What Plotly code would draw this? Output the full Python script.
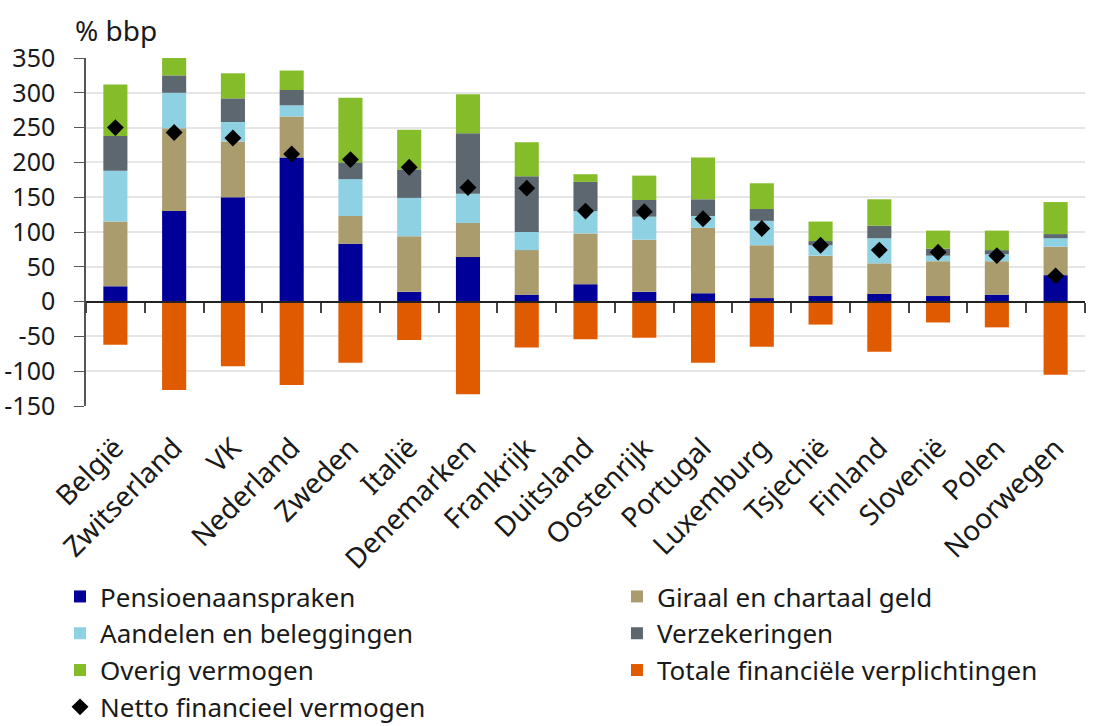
import plotly.graph_objects as go

countries = ["België", "Zwitserland", "VK", "Nederland", "Zweden", "Italië", "Denemarken",
             "Frankrijk", "Duitsland", "Oostenrijk", "Portugal", "Luxemburg", "Tsjechië",
             "Finland", "Slovenië", "Polen", "Noorwegen"]
pensioen = [22, 130, 150, 207, 83, 14, 64, 10, 25, 14, 12, 5, 8, 11, 8, 10, 38]
giraal = [93, 119, 80, 59, 40, 80, 49, 64, 73, 75, 94, 76, 58, 44, 50, 48, 41]
aandelen = [73, 51, 28, 16, 53, 55, 42, 26, 32, 33, 17, 35, 15, 36, 8, 10, 12]
verzekeringen = [50, 25, 34, 22, 24, 41, 87, 80, 42, 24, 24, 17, 6, 18, 10, 6, 6]
overig = [74, 35, 36, 28, 93, 57, 56, 49, 11, 35, 60, 37, 28, 38, 26, 28, 46]
verplichtingen = [-62, -127, -93, -120, -88, -55, -133, -66, -54, -52, -88, -65, -33, -72, -30, -37, -105]
netto = [250, 243, 235, 212, 204, 193, 164, 163, 130, 129, 119, 105, 81, 74, 71, 66, 37]
y_ticks = [-150, -100, -50, 0, 50, 100, 150, 200, 250, 300, 350]
y_ticktext = ["-150", "-100", "-50", "0", "50", "100", "150", "200", "250", "300", "350"]

FONT = "Noto Sans"
TXT = "#1a1a1a"
fig = go.Figure()
series = [
    ("Pensioenaanspraken", pensioen, "#000099", "legend"),
    ("Giraal en chartaal geld", giraal, "#AB9C6E", "legend2"),
    ("Aandelen en beleggingen", aandelen, "#8ED1E3", "legend"),
    ("Verzekeringen", verzekeringen, "#5C6770", "legend2"),
    ("Overig vermogen", overig, "#84BC2A", "legend"),
    ("Totale financiële verplichtingen", verplichtingen, "#E05A00", "legend2"),
]
for name, vals, col, leg in series:
    fig.add_trace(go.Bar(x=countries, y=vals, name=name, legend=leg,
                         marker=dict(color=col, line=dict(width=0))))
fig.add_trace(go.Scatter(x=countries, y=netto, name="Netto financieel vermogen", mode="markers",
                         legend="legend", marker=dict(symbol="diamond", color="black", size=13)))
# hidden trace for the zero-line axis with boundary ticks
fig.add_trace(go.Scatter(x=countries, y=[0] * len(countries), xaxis="x2", mode="markers",
                         marker=dict(opacity=0), showlegend=False, hoverinfo="skip"))

n = len(countries)
leg_common = dict(orientation="v", yanchor="top", xanchor="left", traceorder="normal",
                  font=dict(size=26, color=TXT), itemwidth=30, bgcolor="rgba(0,0,0,0)")
fig.update_layout(
    width=1111, height=726,
    barmode="relative", bargap=0.59,
    plot_bgcolor="white", paper_bgcolor="white",
    margin=dict(l=86, r=26, t=58, b=320, autoexpand=False),
    font=dict(family=FONT, color=TXT, size=22),
    xaxis=dict(tickangle=-45, tickfont=dict(size=28, color=TXT), showgrid=False,
               ticks="", showline=False, ticklabelstandoff=19, range=[-0.5, n - 0.5]),
    xaxis2=dict(overlaying="x", anchor="free", position=0.3, side="bottom", showline=True,
                linecolor="#222222", linewidth=2, ticks="outside", tickson="boundaries",
                ticklen=10, tickwidth=2, tickcolor="#444444", showticklabels=False,
                showgrid=False, matches="x"),
    yaxis=dict(range=[-150, 350], tickvals=y_ticks, ticktext=y_ticktext, showgrid=True,
               gridcolor="#e6e6e6", gridwidth=2, showline=True, linecolor="#555555",
               linewidth=1.5, ticks="outside", ticklen=10, tickcolor="#555555",
               tickfont=dict(size=25, color=TXT), zeroline=False, ticklabelstandoff=14),
    legend=dict(x=-0.026, y=-0.48, **leg_common),
    legend2=dict(x=0.5315, y=-0.48, **leg_common),
    showlegend=True,
)
fig.add_annotation(text="% bbp", xref="paper", yref="paper", x=-0.013, y=1.02,
                   xanchor="left", yanchor="bottom", showarrow=False,
                   font=dict(size=28, color=TXT))
fig.write_html("out.html", config={"displayModeBar": False},
               post_script="document.body.style.margin='0';")
